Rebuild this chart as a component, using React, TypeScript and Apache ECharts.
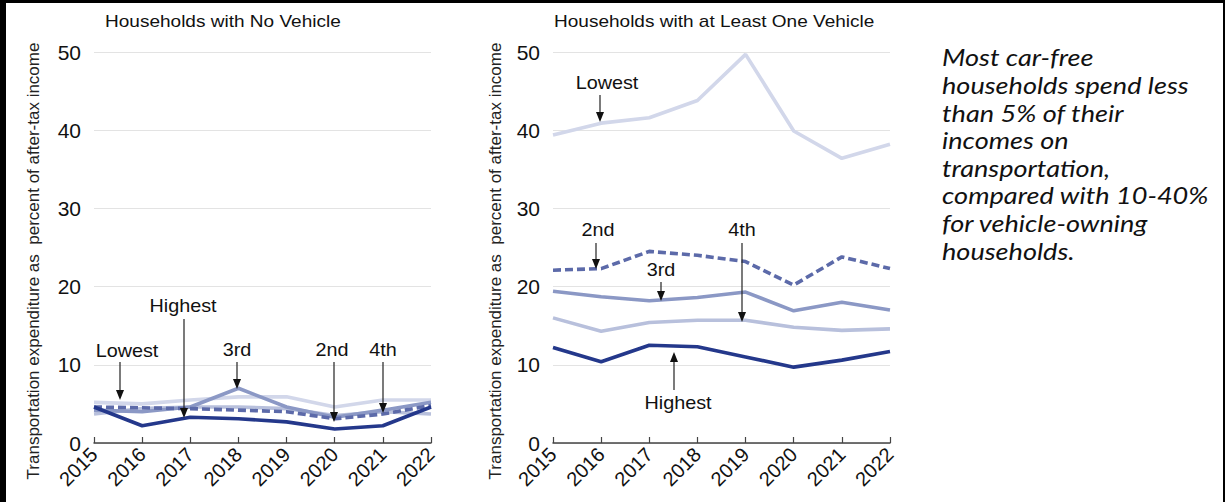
import React, { useEffect, useRef } from "react";
import * as echarts from "echarts";

const YEARS = ["2015", "2016", "2017", "2018", "2019", "2020", "2021", "2022"];

// Households with No Vehicle (% of after-tax income)
const NV_LOWEST = [5.2, 5.0, 5.5, 5.9, 5.9, 4.6, 5.5, 5.5];
const NV_SECOND = [4.6, 4.5, 4.4, 4.2, 4.0, 3.1, 3.7, 4.8];
const NV_THIRD = [4.2, 4.0, 4.6, 7.0, 4.6, 3.3, 4.2, 5.2];
const NV_FOURTH = [3.7, 4.4, 4.6, 4.6, 4.4, 3.5, 4.0, 3.7];
const NV_HIGHEST = [4.6, 2.2, 3.3, 3.1, 2.7, 1.8, 2.2, 4.6];

// Households with at Least One Vehicle
const V_LOWEST = [39.4, 40.9, 41.6, 43.8, 49.7, 39.9, 36.4, 38.2];
const V_SECOND = [22.1, 22.3, 24.5, 24.0, 23.2, 20.2, 23.8, 22.3];
const V_THIRD = [19.4, 18.7, 18.2, 18.6, 19.3, 16.9, 18.0, 17.0];
const V_FOURTH = [16.0, 14.3, 15.4, 15.7, 15.7, 14.8, 14.4, 14.6];
const V_HIGHEST = [12.2, 10.4, 12.5, 12.3, 11.0, 9.7, 10.6, 11.7];

const Y_TICKS = { min: 0, max: 50, interval: 10 };

const TITLES = ["Households with No Vehicle", "Households with at Least One Vehicle"];
const Y_NAME = "Transportation expenditure as  percent of after-tax income";
const NOTE_LINES = [
  "Most car-free",
  "households spend less",
  "than 5% of their",
  "incomes on",
  "transportation,",
  "compared with 10-40%",
  "for vehicle-owning",
  "households.",
];

// annotation layout (pixels): label centre and arrow from -> to
const ANNOTATIONS = [
  { text: "Lowest", tx: 127, ty: 351, x: 120, y1: 362, y2: 400 },
  { text: "Highest", tx: 183, ty: 306, x: 184, y1: 319, y2: 418 },
  { text: "3rd", tx: 237, ty: 350, x: 237, y1: 362, y2: 389 },
  { text: "2nd", tx: 332, ty: 350, x: 334, y1: 362, y2: 422 },
  { text: "4th", tx: 383, ty: 350, x: 383, y1: 362, y2: 413 },
  { text: "Lowest", tx: 607, ty: 83, x: 600, y1: 95, y2: 122 },
  { text: "2nd", tx: 598, ty: 230, x: 596, y1: 243, y2: 269 },
  { text: "4th", tx: 742, ty: 230, x: 742, y1: 243, y2: 322 },
  { text: "3rd", tx: 661, ty: 270, x: 661, y1: 282, y2: 301 },
  { text: "Highest", tx: 678, ty: 403, x: 674, y1: 390, y2: 352 },
];

const COLORS = {
  lowest: "#d2d7ea",
  fourth: "#b8c0dc",
  third: "#8b98c5",
  second: "#5c6aa9",
  highest: "#24388b",
};

const FONT = "'Liberation Sans', Arial, sans-serif";

function arrow(a: { x: number; y1: number; y2: number }) {
  const dir = a.y2 > a.y1 ? 1 : -1;
  const hy = a.y2 - dir * 10;
  return [
    {
      type: "line",
      shape: { x1: a.x, y1: a.y1, x2: a.x, y2: hy },
      style: { stroke: "#222", lineWidth: 1.2 },
      z: 100,
    },
    {
      type: "polygon",
      shape: { points: [[a.x - 4, hy], [a.x + 4, hy], [a.x, a.y2]] },
      style: { fill: "#111" },
      z: 100,
    },
  ];
}

export default function App() {
  const ref = useRef<HTMLDivElement>(null);
  useEffect(() => {
    if (!ref.current) return;
    const chart = echarts.init(ref.current, undefined, { renderer: "svg" });

    const mkX = (gridIndex: number) => ({
      type: "category",
      gridIndex,
      data: YEARS,
      boundaryGap: false,
      axisLine: { lineStyle: { color: "#444", width: 1.5 } },
      axisTick: { inside: true, length: 6, lineStyle: { color: "#444", width: 1.2 } },
      axisLabel: { rotate: 45, fontSize: 20, color: "#111", margin: 8, fontFamily: FONT },
      splitLine: { show: false },
    });
    const mkY = (gridIndex: number) => ({
      type: "value",
      gridIndex,
      ...Y_TICKS,
      axisLine: { show: false },
      axisTick: { show: false },
      axisLabel: { fontSize: 21, color: "#111", margin: 13, fontFamily: FONT },
      splitLine: { lineStyle: { color: "#e3e3e3", width: 1 } },
    });
    const mkS = (idx: number, data: number[], color: string, dashed = false) => ({
      type: "line",
      xAxisIndex: idx,
      yAxisIndex: idx,
      data,
      symbol: "none",
      lineStyle: { color, width: 3.6, type: dashed ? [8, 4] : "solid", cap: "butt" },
      emphasis: { disabled: true },
    });

    const graphic: any[] = [
      { type: "rect", shape: { x: 0, y: 0, width: 6, height: 502 }, style: { fill: "#000" }, z: 200 },
      { type: "rect", shape: { x: 0, y: 0, width: 1225, height: 3 }, style: { fill: "#000" }, z: 200 },
      { type: "rect", shape: { x: 1223, y: 0, width: 2, height: 502 }, style: { fill: "#000" }, z: 200 },
      {
        type: "text", x: 105, y: 21, scaleX: 1.12,
        style: { text: TITLES[0], fontSize: 17, fontFamily: FONT, fill: "#111", align: "left", verticalAlign: "middle" },
      },
      {
        type: "text", x: 554, y: 21, scaleX: 1.12,
        style: { text: TITLES[1], fontSize: 17, fontFamily: FONT, fill: "#111", align: "left", verticalAlign: "middle" },
      },
      {
        type: "text", x: 33, y: 261, rotation: Math.PI / 2,
        style: { text: Y_NAME, fontSize: 17, fontFamily: FONT, fill: "#222", align: "center", verticalAlign: "middle" },
      },
      {
        type: "text", x: 495, y: 261, rotation: Math.PI / 2,
        style: { text: Y_NAME, fontSize: 17, fontFamily: FONT, fill: "#222", align: "center", verticalAlign: "middle" },
      },
    ];
    NOTE_LINES.forEach((t, i) => {
      graphic.push({
        type: "text", x: 942, y: 57 + 27.6 * i, scaleX: 1.13,
        style: { text: t, fontSize: 24, fontStyle: "italic", fontFamily: "Lato, 'Open Sans', sans-serif", fill: "#111", align: "left", verticalAlign: "middle" },
      });
    });
    ANNOTATIONS.forEach((a) => {
      graphic.push({
        type: "text", x: a.tx, y: a.ty, scaleX: 1.1, z: 100,
        style: { text: a.text, fontSize: 18, fontFamily: FONT, fill: "#111", align: "center", verticalAlign: "middle" },
      });
      graphic.push(...arrow(a));
    });

    chart.setOption({
      animation: false,
      backgroundColor: "#fff",
      grid: [
        { left: 94, top: 52, width: 337, height: 391 },
        { left: 553, top: 52, width: 337, height: 391 },
      ],
      xAxis: [mkX(0), mkX(1)],
      yAxis: [mkY(0), mkY(1)],
      series: [
        mkS(0, NV_LOWEST, COLORS.lowest),
        mkS(0, NV_FOURTH, COLORS.fourth),
        mkS(0, NV_THIRD, COLORS.third),
        mkS(0, NV_SECOND, COLORS.second, true),
        mkS(0, NV_HIGHEST, COLORS.highest),
        mkS(1, V_LOWEST, COLORS.lowest),
        mkS(1, V_FOURTH, COLORS.fourth),
        mkS(1, V_THIRD, COLORS.third),
        mkS(1, V_SECOND, COLORS.second, true),
        mkS(1, V_HIGHEST, COLORS.highest),
      ],
      graphic,
    });
    return () => chart.dispose();
  }, []);
  return (
    <div
      ref={ref}
      style={{ position: "absolute", left: 0, top: 0, width: 1225, height: 502, background: "#fff" }}
    />
  );
}
